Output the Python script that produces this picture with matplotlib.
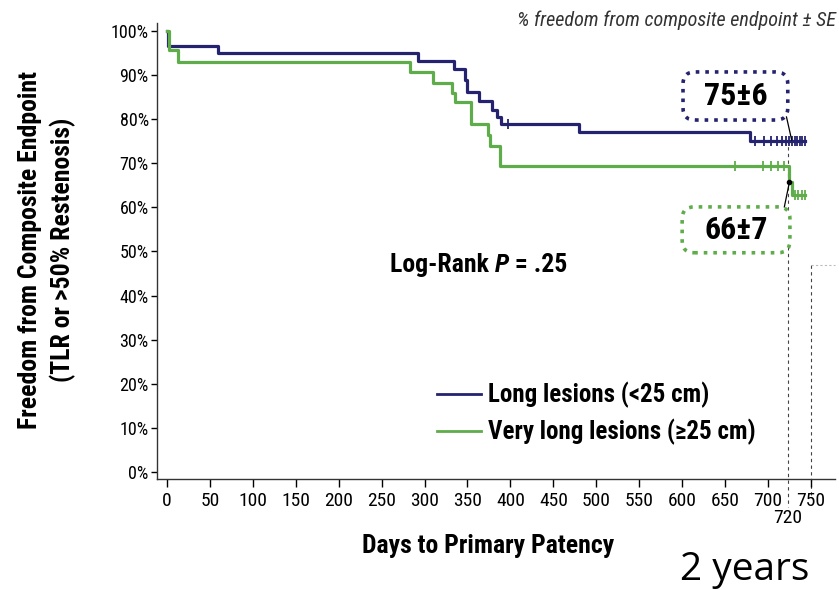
import numpy as np
import matplotlib
matplotlib.use("Agg")
import matplotlib.pyplot as plt
from matplotlib.lines import Line2D
from matplotlib.patches import FancyBboxPatch

# ---------------- data ----------------
long_days = [0, 1, 59, 292, 334, 347, 350, 363, 379, 384, 389, 480, 679, 743]
long_surv = [100, 96.6, 94.9, 93.1, 91.3, 88.9, 86.2, 84.2, 82.1, 80.5, 79.0, 77.0, 75.1, 75.1]
long_cens = [397, 685, 695, 703, 711, 716, 721, 725, 728, 731, 734, 737, 740, 743]

vlong_days = [0, 2, 13, 283, 310, 332, 336, 354, 374, 376, 388, 724, 728, 743]
vlong_surv = [100, 95.6, 93.0, 90.7, 88.3, 86.0, 83.8, 79.0, 76.5, 73.9, 69.4, 65.8, 62.8, 62.8]
vlong_cens = [661, 694, 704, 712, 719, 731, 735, 739, 743]

series_labels = ["Long lesions (<25 cm)", "Very long lesions (\u226525 cm)"]
x_ticks = list(range(0, 751, 50))
y_ticks = list(range(0, 101, 10))
box_labels = ["75\u00b16", "66\u00b17"]
logrank_p = ".25"

NAVY = "#25236f"
GREEN = "#5fad4a"

# ---------------- fonts ----------------
FAM = ["Roboto Condensed", "Barlow Condensed", "Archivo Narrow", "DejaVu Sans"]
plt.rcParams["font.family"] = FAM

fig = plt.figure(figsize=(8.39, 5.90), dpi=100)
ax = fig.add_axes([157 / 839, 1 - 479 / 590, (835 - 157) / 839, (479 - 23) / 590])


def step_value(days, surv, t):
    i = np.searchsorted(days, t, side="right") - 1
    return np.asarray(surv)[i]


ax.step(long_days, long_surv, where="post", color=NAVY, lw=2.3)
ax.step(vlong_days, vlong_surv, where="post", color=GREEN, lw=2.3)
ax.plot(long_cens, [step_value(long_days, long_surv, c) for c in long_cens], "|",
        color=NAVY, ms=7, mew=1.3)
ax.plot(vlong_cens, [step_value(vlong_days, vlong_surv, c) for c in vlong_cens], "|",
        color=GREEN, ms=7, mew=1.3)

ax.set_xlim(-11.6, 778)
ax.set_ylim(-1.6, 101.8)
ax.set_xticks(x_ticks)
ax.set_yticks(y_ticks)
ax.set_yticklabels([f"{v}%" for v in y_ticks])
ax.tick_params(axis="y", direction="out", length=4, width=1, labelsize=13, pad=2)
ax.tick_params(axis="x", direction="out", length=6, width=1, labelsize=14, pad=3)
for s in ["top", "right"]:
    ax.spines[s].set_visible(False)
for s in ["left", "bottom"]:
    ax.spines[s].set_color("#333333")
    ax.spines[s].set_linewidth(1.0)

# dashed reference lines
ax.plot([723, 723], [75.3, -7.9], ls=(0, (3, 3)), color="#444444", lw=0.8, clip_on=False, zorder=1)
ax.plot([750, 750], [47.0, -5.7], ls=(0, (3, 3)), color="#444444", lw=0.8, clip_on=False, zorder=1)
ax.plot([750, 778], [47.0, 47.0], ls=(0, (2, 2)), color="#bbbbbb", lw=0.8, clip_on=False, zorder=1)
ax.annotate("720", xy=(723, 0), xycoords=("data", "axes fraction"), xytext=(0, -28),
            textcoords="offset points", ha="center", va="center", fontsize=14)

# annotation boxes (rounded, dotted)
aspect = (678 / 789.6) / (456 / 103.4)
for (x0, y0, w, h, col) in [(601, 79.8, 122, 10.9, NAVY), (600, 49.7, 125.5, 10.4, GREEN)]:
    ax.add_patch(FancyBboxPatch((x0, y0), w, h, boxstyle="round,pad=0,rounding_size=14",
                                mutation_aspect=aspect, fc="white", ec=col, ls=":", lw=2.6,
                                zorder=4))
ax.text(662, 85.3, box_labels[0], ha="center", va="center", fontsize=23, fontweight="bold", zorder=5)
ax.text(663, 54.9, box_labels[1], ha="center", va="center", fontsize=23, fontweight="bold", zorder=5)
ax.plot([721.5, 727.5], [80.5, 75.3], color="black", lw=0.9, zorder=6)
ax.plot([719, 725], [60.1, 65.8], color="black", lw=0.9, zorder=6)
ax.plot([725], [65.8], "o", color="black", ms=3, zorder=6)

# log-rank text
t1 = ax.text(260, 46.9, "Log-Rank ", ha="left", va="center", fontsize=18.5, fontweight="bold")
t2 = ax.annotate("P", xy=(1, 0), xycoords=t1, va="bottom", ha="left", fontsize=18.5,
                 fontweight="bold", fontstyle="italic")
ax.annotate(" = " + logrank_p, xy=(1, 0), xycoords=t2, va="bottom", ha="left", fontsize=18.5,
            fontweight="bold")

# legend
handles = [Line2D([], [], color=NAVY, lw=2), Line2D([], [], color=GREEN, lw=2)]
leg = ax.legend(handles, series_labels, loc="center left", bbox_to_anchor=(0.413, 0.1436),
                frameon=False, handlelength=1.75, handletextpad=0.3,
                labelspacing=0.42, borderpad=0, borderaxespad=0,
                prop=dict(family=FAM, weight="bold", size=18))

# axis labels
fig.text(488 / 839, 1 - 546 / 590, "Days to Primary Patency", ha="center", va="center",
         fontsize=18.5, fontweight="bold")
fig.text(30 / 839, 1 - 250 / 590, "Freedom from Composite Endpoint", rotation=90,
         ha="center", va="center", fontsize=18.5, fontweight="bold")
fig.text(63 / 839, 1 - 250 / 590, "(TLR or >50% Restenosis)", rotation=90,
         ha="center", va="center", fontsize=18.5, fontweight="bold")

# header and extra note
fig.text(836 / 839, 1 - 20 / 590, "% freedom from composite endpoint \u00b1 SE", ha="right",
         va="center", fontsize=14.5, fontstyle="italic", color="#333333")
fig.text(745 / 839, 1 - 570 / 590, "2 years", ha="center", va="center", fontsize=28,
         family=["Open Sans", "DejaVu Sans"], color="black")

fig.savefig("out.png", dpi=100)
